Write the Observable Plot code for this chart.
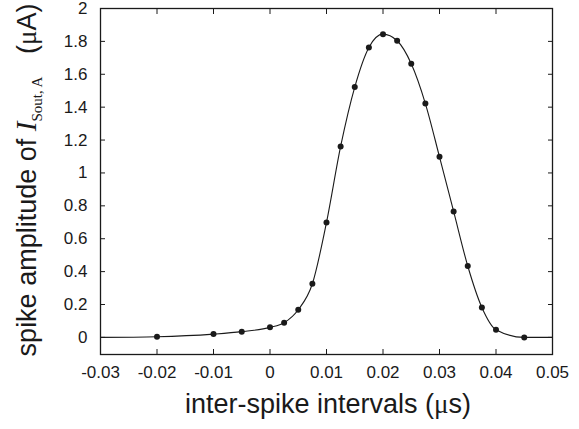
<!DOCTYPE html>
<html>
<head>
<meta charset="utf-8">
<script src="https://cdn.jsdelivr.net/npm/d3@7"></script>
<script src="https://cdn.jsdelivr.net/npm/@observablehq/plot@0.6"></script>
<style>
  html, body { margin: 0; padding: 0; background: #fff; }
  #chart svg { display: block; }
</style>
</head>
<body>
<div id="chart"></div>
<script>
// Measured points (inter-spike interval, spike amplitude in µA)
const intervals  = [-0.02, -0.01, -0.005, 0, 0.0025, 0.005, 0.0075, 0.01, 0.0125, 0.015, 0.0175, 0.02, 0.0225, 0.025, 0.0275, 0.03, 0.0325, 0.035, 0.0375, 0.04, 0.045];
const amplitudes = [0.004, 0.02, 0.035, 0.061, 0.089, 0.168, 0.326, 0.699, 1.161, 1.522, 1.763, 1.844, 1.804, 1.664, 1.422, 1.098, 0.766, 0.434, 0.182, 0.047, 0.0];
// Fitted curve extends to the axis ends
const curveStart = [-0.03, 0.0];
const curveEnd   = [0.05, 0.0];
const xTicks = [-0.03, -0.02, -0.01, 0, 0.01, 0.02, 0.03, 0.04, 0.05];
const yTicks = [0, 0.2, 0.4, 0.6, 0.8, 1, 1.2, 1.4, 1.6, 1.8, 2];

const points = intervals.map((x, i) => ({x, y: amplitudes[i]}));
const curve = [{x: curveStart[0], y: curveStart[1]}, ...points, {x: curveEnd[0], y: curveEnd[1]}];

const fmt = d => String(+d.toFixed(3));
const blank = () => "";
const ink = "#1a1a1a";

const plot = Plot.plot({
  width: 579,
  height: 429,
  marginLeft: 100,
  marginRight: 27,
  marginTop: 8,
  marginBottom: 75,
  style: {fontFamily: "'Liberation Sans', Arial, sans-serif", fontSize: "17px", color: ink, background: "#fff"},
  x: {domain: [-0.03, 0.05]},
  y: {domain: [-0.104, 2]},
  marks: [
    Plot.axisX(xTicks, {anchor: "bottom", tickSize: -5, tickPadding: 16, tickFormat: fmt, label: null}),
    Plot.axisX(xTicks, {anchor: "top", tickSize: -5, tickFormat: blank, label: null}),
    Plot.axisY(yTicks, {anchor: "left", tickSize: -5, tickPadding: 18, tickFormat: fmt, label: null}),
    Plot.axisY(yTicks, {anchor: "right", tickSize: -5, tickFormat: blank, label: null}),
    Plot.line(curve, {x: "x", y: "y", curve: "monotone-x", stroke: ink, strokeWidth: 1.1}),
    Plot.dot(points, {x: "x", y: "y", r: 3, fill: ink, stroke: null}),
    Plot.frame({stroke: ink, strokeWidth: 1.3})
  ]
});

const svg = d3.select(plot);
const serif = "'Liberation Serif', 'Times New Roman', serif";
// X axis title
svg.append("text")
  .attr("x", 328).attr("y", 413)
  .attr("text-anchor", "middle")
  .attr("font-family", "'Liberation Sans', Arial, sans-serif")
  .attr("font-size", 27)
  .attr("fill", ink)
  .call(t => {
    t.append("tspan").text("inter-spike intervals (");
    t.append("tspan").attr("font-family", serif).text("μ");
    t.append("tspan").text("s)");
  });
// Y axis title
svg.append("text")
  .attr("transform", "translate(36,180) rotate(-90)")
  .attr("text-anchor", "middle")
  .attr("font-family", "'Liberation Sans', Arial, sans-serif")
  .attr("font-size", 27)
  .attr("fill", ink)
  .call(t => {
    t.append("tspan").text("spike amplitude of ");
    t.append("tspan").attr("font-family", serif).attr("font-style", "italic").attr("font-size", 29).text("I");
    t.append("tspan").attr("font-family", serif).attr("font-size", 15).attr("dy", 6).text("Sout, A");
    t.append("tspan").attr("dy", -6).text("\u00a0\u00a0\u00a0(");
    t.append("tspan").attr("font-family", serif).text("μ");
    t.append("tspan").text("A)");
  });

document.getElementById("chart").appendChild(plot);
</script>
</body>
</html>
